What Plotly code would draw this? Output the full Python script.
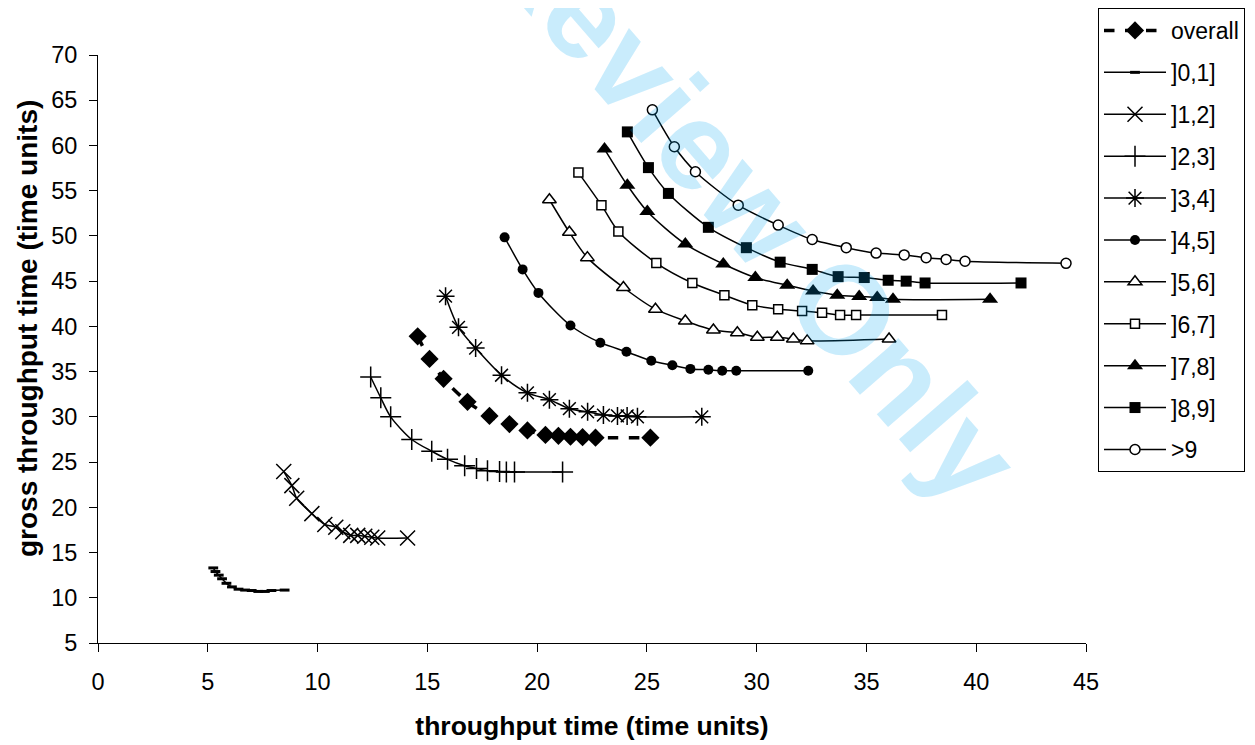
import plotly.graph_objects as go

# ---------------- data ----------------
series_names = ["overall", "]0,1]", "]1,2]", "]2,3]", "]3,4]", "]4,5]", "]5,6]", "]6,7]", "]7,8]", "]8,9]", ">9"]

overall_x = [14.56, 15.1, 15.74, 16.83, 17.83, 18.74, 19.56, 20.38, 20.97, 21.52, 22.07, 22.66, 25.16]
overall_y = [38.9, 36.4, 34.2, 31.66, 30.1, 29.2, 28.5, 28.0, 27.9, 27.8, 27.75, 27.7, 27.7]

s01_x = [5.25, 5.35, 5.5, 5.65, 5.85, 6.1, 6.4, 6.7, 7.0, 7.3, 7.6, 7.9, 8.5]
s01_y = [13.3, 12.9, 12.5, 12.1, 11.6, 11.2, 10.95, 10.85, 10.8, 10.7, 10.7, 10.8, 10.85]

s12_x = [8.46, 8.83, 9.05, 9.74, 10.33, 10.83, 11.15, 11.51, 11.83, 12.15, 12.47, 12.74, 14.1]
s12_y = [23.95, 22.4, 21.0, 19.3, 18.1, 17.8, 17.3, 16.9, 16.9, 16.8, 16.7, 16.6, 16.6]

s23_x = [12.42, 12.88, 13.33, 14.29, 15.2, 15.92, 16.7, 17.24, 17.74, 18.29, 18.6, 18.97, 21.16]
s23_y = [34.4, 32.1, 30.0, 27.5, 26.2, 25.3, 24.6, 24.3, 24.05, 23.95, 23.9, 23.9, 23.9]

s34_x = [15.83, 16.42, 17.2, 18.38, 19.56, 20.56, 21.47, 22.3, 23.02, 23.66, 24.1, 24.57, 27.5]
s34_y = [43.34, 39.9, 37.6, 34.6, 32.65, 31.9, 30.9, 30.55, 30.2, 30.1, 30.1, 30.0, 30.0]

s45_x = [18.52, 19.34, 20.06, 21.52, 22.88, 24.07, 25.2, 26.16, 26.98, 27.8, 28.43, 29.07, 32.35]
s45_y = [49.84, 46.3, 43.7, 40.1, 38.2, 37.2, 36.2, 35.7, 35.3, 35.2, 35.1, 35.1, 35.1]

s56_x = [20.56, 21.47, 22.29, 23.93, 25.39, 26.75, 28.03, 29.12, 30.03, 30.94, 31.67, 32.3, 36.03]
s56_y = [54.0, 50.4, 47.6, 44.3, 41.9, 40.6, 39.6, 39.3, 38.8, 38.8, 38.6, 38.4, 38.6]

s67_x = [21.88, 22.93, 23.7, 25.43, 27.07, 28.53, 29.8, 30.98, 32.07, 32.98, 33.8, 34.53, 38.44]
s67_y = [57.0, 53.4, 50.5, 47.0, 44.8, 43.45, 42.35, 41.9, 41.7, 41.5, 41.25, 41.25, 41.25]

s78_x = [23.07, 24.11, 25.02, 26.75, 28.48, 29.94, 31.39, 32.57, 33.67, 34.67, 35.49, 36.21, 40.63]
s78_y = [59.6, 55.6, 52.7, 49.1, 46.9, 45.4, 44.55, 43.9, 43.45, 43.3, 43.2, 43.0, 43.0]

s89_x = [24.11, 25.07, 25.98, 27.8, 29.53, 31.07, 32.53, 33.71, 34.9, 35.99, 36.81, 37.67, 42.04]
s89_y = [61.5, 57.55, 54.7, 50.95, 48.7, 47.1, 46.3, 45.5, 45.4, 45.1, 45.0, 44.8, 44.8]

s9_x = [25.25, 26.25, 27.21, 29.16, 30.98, 32.53, 34.08, 35.44, 36.72, 37.72, 38.63, 39.49, 44.09]
s9_y = [63.94, 59.86, 57.1, 53.4, 51.2, 49.6, 48.7, 48.1, 47.9, 47.6, 47.4, 47.2, 46.97]

x_ticks = [0, 5, 10, 15, 20, 25, 30, 35, 40, 45]
y_ticks = [5, 10, 15, 20, 25, 30, 35, 40, 45, 50, 55, 60, 65, 70]

x_title = "throughput time (time units)"
y_title = "gross throughput time (time units)"

# ---------------- styles ----------------
xs = [overall_x, s01_x, s12_x, s23_x, s34_x, s45_x, s56_x, s67_x, s78_x, s89_x, s9_x]
ys = [overall_y, s01_y, s12_y, s23_y, s34_y, s45_y, s56_y, s67_y, s78_y, s89_y, s9_y]

styles = [
    dict(symbol="diamond", size=14, color="black", lcolor="black", lw=0, linew=3.5, dash="dash"),
    dict(symbol="line-ew", size=7, color="black", lcolor="black", lw=3, linew=1.5, dash="solid"),
    dict(symbol="x-thin", size=15, color="black", lcolor="black", lw=1.5, linew=1.5, dash="solid"),
    dict(symbol="cross-thin", size=15, color="black", lcolor="black", lw=1.5, linew=1.5, dash="solid"),
    dict(symbol="asterisk", size=15, color="black", lcolor="black", lw=1.5, linew=1.5, dash="solid"),
    dict(symbol="circle", size=10, color="black", lcolor="black", lw=0, linew=1.5, dash="solid"),
    dict(symbol="triangle-up", size=12, color="white", lcolor="black", lw=1.5, linew=1.5, dash="solid"),
    dict(symbol="square", size=9, color="white", lcolor="black", lw=1.5, linew=1.5, dash="solid"),
    dict(symbol="triangle-up", size=14, color="black", lcolor="black", lw=0, linew=1.5, dash="solid"),
    dict(symbol="square", size=11, color="black", lcolor="black", lw=0, linew=1.5, dash="solid"),
    dict(symbol="circle", size=10, color="white", lcolor="black", lw=1.5, linew=1.5, dash="solid"),
]

FONT = "Arial, Liberation Sans, Helvetica, sans-serif"

# The page has an 8 px body margin, so the figure is drawn 8 px in from the top-left.
W, H = 1247, 737
L, T, R, B = 90, 47, 169, 102

fig = go.Figure()
for i, (name, x, y, st) in enumerate(zip(series_names, xs, ys, styles)):
    fig.add_trace(go.Scatter(
        x=x, y=y, name=name, mode="lines+markers",
        legendgroup=f"g{i}",
        line=dict(color="black", width=st["linew"], dash=st["dash"], shape="spline", smoothing=0.8),
        marker=dict(symbol=st["symbol"], size=st["size"], color=st["color"],
                    line=dict(color=st["lcolor"], width=st["lw"])),
    ))

# watermark
fig.add_annotation(
    text="<b>For Peer Review Only</b>", xref="paper", yref="paper",
    x=0.48, y=1.097, xanchor="center", yanchor="middle", showarrow=False,
    textangle=49, font=dict(family=FONT, size=125, color="rgba(0,165,240,0.21)"),
)

# y-axis title (placed like the original, slightly above the plot centre)
fig.add_annotation(
    text=f"<b>{y_title}</b>", xref="paper", yref="paper",
    x=-71 / 988, y=(635 - 321) / 588, xanchor="center", yanchor="middle", showarrow=False,
    textangle=-90, font=dict(family=FONT, size=28, color="black"),
)

fig.update_layout(
    width=W, height=H,
    margin=dict(l=L, r=R, t=T, b=B, autoexpand=False),
    paper_bgcolor="white", plot_bgcolor="white",
    font=dict(family=FONT, size=23, color="black"),
    showlegend=True,
    legend=dict(
        xref="container", yref="container",
        x=1090 / W, xanchor="left", y=1.0, yanchor="top",
        bordercolor="black", borderwidth=1, bgcolor="white",
        font=dict(size=23, family=FONT), tracegroupgap=9,
        itemwidth=62, maxheight=720,
    ),
    xaxis=dict(
        range=[0, 45], tickvals=x_ticks, showgrid=False, zeroline=False,
        showline=True, linecolor="black", linewidth=1, automargin=False,
        ticks="outside", ticklen=8, tickcolor="black",
        tickfont=dict(size=23.5, family=FONT), ticklabelstandoff=10,
        title=dict(text=f"<b>{x_title}</b>", font=dict(size=26.5, family=FONT), standoff=22),
    ),
    yaxis=dict(
        range=[5, 70], tickvals=y_ticks, showgrid=False, zeroline=False,
        showline=True, linecolor="black", linewidth=1, automargin=False,
        ticks="outside", ticklen=8, tickcolor="black",
        tickfont=dict(size=23.5, family=FONT), ticklabelstandoff=7,
    ),
)

fig.write_html("out.html")
